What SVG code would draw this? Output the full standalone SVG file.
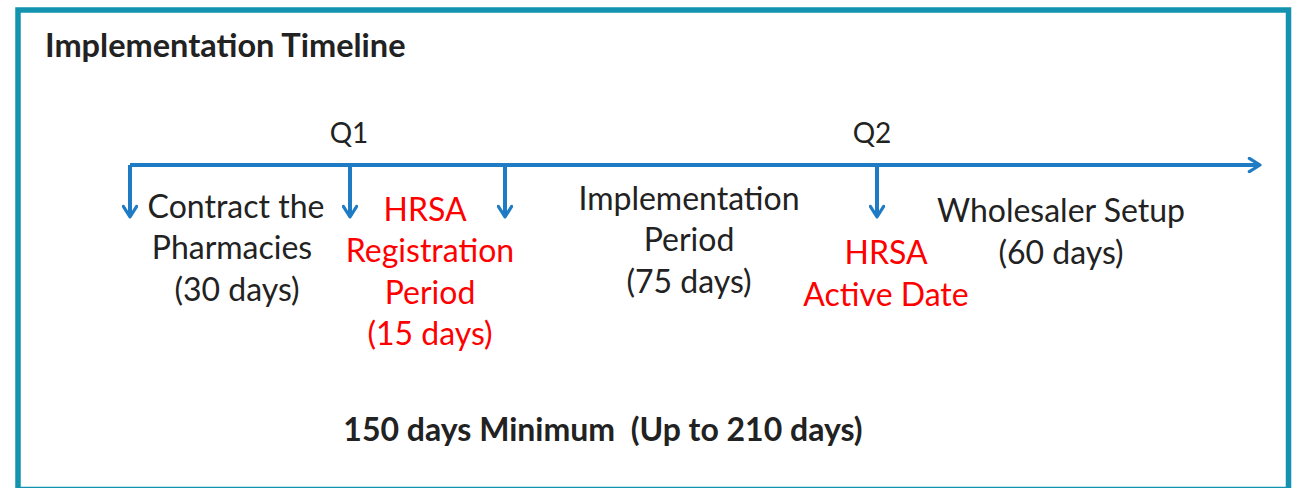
<svg xmlns="http://www.w3.org/2000/svg" width="1297" height="488" viewBox="0 0 1297 488">
  <defs>
    <marker id="chev" viewBox="0 0 12 12" refX="10" refY="6" markerWidth="4" markerHeight="4" orient="auto" markerUnits="strokeWidth">
      <path d="M2,1 L10,6 L2,11" fill="none" stroke="#1f7bc4" stroke-width="2.4" stroke-linecap="round" stroke-linejoin="round"/>
    </marker>
    <style>
      .frame { fill: #ffffff; stroke: #1393b0; stroke-width: 5.5; }
      .axis { fill: none; stroke: #1f7bc4; stroke-width: 4; marker-end: url(#chev); }
      .t { font-family: Lato, "Open Sans", "Liberation Sans", sans-serif; font-size: 32px; fill: #222222; text-anchor: middle; }
      .q { font-size: 28px; }
      .red { fill: #ff0000; }
      .b { font-weight: bold; }
    </style>
  </defs>

  <!-- outer frame (bottom edge runs off the canvas) -->
  <rect class="frame" x="18" y="10" width="1270.5" height="479.5"/>

  <text class="t b" x="45" y="57" style="text-anchor:start;font-size:32.5px">Implementation Timeline</text>

  <!-- timeline axis and milestone ticks -->
  <g id="connectors">
    <path class="axis" d="M130,165 L1260,165"/>
    <path class="axis" d="M130,165 L130,217"/>
    <path class="axis" d="M350,165 L350,217"/>
    <path class="axis" d="M505,165 L505,217"/>
    <path class="axis" d="M877,165 L877,217"/>
  </g>

  <g id="q1"><text class="t q" x="349" y="143">Q1</text></g>
  <g id="q2"><text class="t q" x="872" y="143">Q2</text></g>

  <g id="contract">
    <text class="t" x="236" y="218">Contract the</text>
    <text class="t" x="232" y="259">Pharmacies</text>
    <text class="t" x="237" y="301">(30 days)</text>
  </g>

  <g id="hrsa-registration">
    <text class="t red" x="425" y="221">HRSA</text>
    <text class="t red" x="430" y="262">Registration</text>
    <text class="t red" x="430" y="304">Period</text>
    <text class="t red" x="430" y="345">(15 days)</text>
  </g>

  <g id="implementation">
    <text class="t" x="689" y="210">Implementation</text>
    <text class="t" x="689" y="251">Period</text>
    <text class="t" x="689" y="293">(75 days)</text>
  </g>

  <g id="hrsa-active">
    <text class="t red" x="886" y="264">HRSA</text>
    <text class="t red" x="886" y="306">Active Date</text>
  </g>

  <g id="wholesaler">
    <text class="t" x="1061" y="222">Wholesaler Setup</text>
    <text class="t" x="1061" y="264">(60 days)</text>
  </g>

  <g id="summary">
    <text class="t b" x="603" y="441" xml:space="preserve" style="font-size:32px;white-space:pre">150 days Minimum  (Up to 210 days)</text>
  </g>
</svg>
